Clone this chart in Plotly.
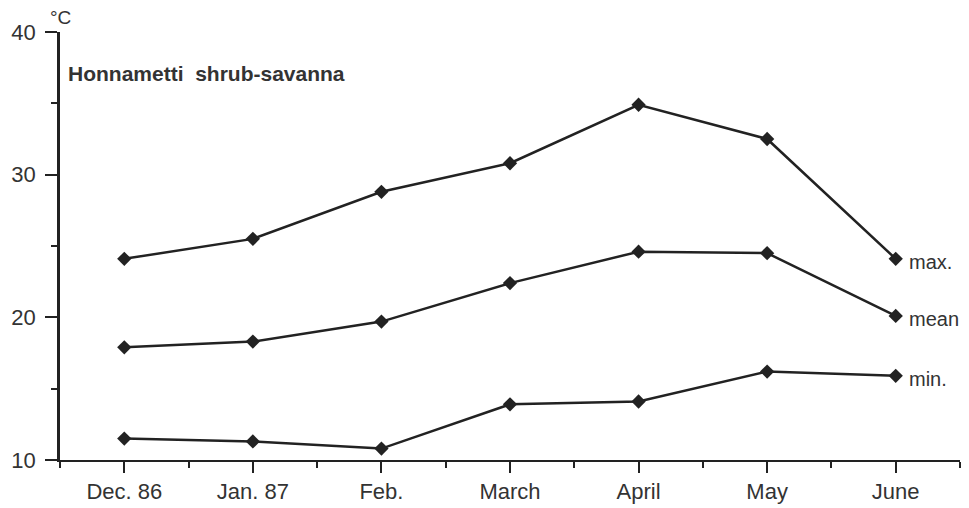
import plotly.graph_objects as go

months = ["Dec. 86", "Jan. 87", "Feb.", "March", "April", "May", "June"]
t_max = [24.1, 25.5, 28.8, 30.8, 34.9, 32.5, 24.1]
t_mean = [17.9, 18.3, 19.7, 22.4, 24.6, 24.5, 20.1]
t_min = [11.5, 11.3, 10.8, 13.9, 14.1, 16.2, 15.9]
series_names = ["max.", "mean", "min."]

x = list(range(len(months)))
font = "Liberation Sans, Arial, sans-serif"

fig = go.Figure()
for name, vals in zip(series_names, [t_max, t_mean, t_min]):
    fig.add_trace(go.Scatter(
        x=x, y=vals, mode="lines+markers", name=name,
        line=dict(color="#222", width=2.5),
        marker=dict(symbol="diamond", size=11, color="#222"),
        cliponaxis=False,
    ))
    fig.add_annotation(x=x[-1], y=vals[-1], text=name, showarrow=False,
                       xanchor="left", xshift=11, yshift=-3,
                       font=dict(size=20, color="#333", family=font))

# unit label above the y axis
fig.add_annotation(xref="paper", yref="paper", x=0.0, y=1.0, text="°C",
                   showarrow=False, xanchor="center", yanchor="bottom", yshift=2,
                   font=dict(size=19, color="#333", family=font))
fig.add_annotation(xref="paper", yref="paper", x=0.007, y=0.904, text="<b>Honnametti  shrub-savanna</b>",
                   showarrow=False, xanchor="left", yanchor="middle",
                   font=dict(size=21, color="#333", family=font))

# page body adds an 8px margin, so the figure is a bit smaller than the window
fig.update_layout(
    width=961, height=500,
    margin=dict(l=52, r=9, t=24, b=48),
    plot_bgcolor="white", paper_bgcolor="white",
    showlegend=False,
    font=dict(family=font, size=22, color="#333"),
    xaxis=dict(
        range=[-0.5, 6.5], tickmode="array", tickvals=x, ticktext=months,
        automargin=False,
        showgrid=False, zeroline=False, showline=True, linecolor="#222", linewidth=2,
        ticks="outside", ticklen=11, tickwidth=2, tickcolor="#222",
        minor=dict(tick0=0.5, dtick=1, ticks="outside", ticklen=6, tickwidth=2, tickcolor="#222", showgrid=False),
    ),
    yaxis=dict(
        range=[10, 40], tickvals=[10, 20, 30, 40],
        automargin=False, ticklabelstandoff=5,
        showgrid=False, zeroline=False, showline=True, linecolor="#222", linewidth=2.5,
        ticks="outside", ticklen=12, tickwidth=2, tickcolor="#222",
        minor=dict(dtick=5, ticks="outside", ticklen=6, tickwidth=2, tickcolor="#222", showgrid=False),
    ),
)

fig.write_html("out.html")
